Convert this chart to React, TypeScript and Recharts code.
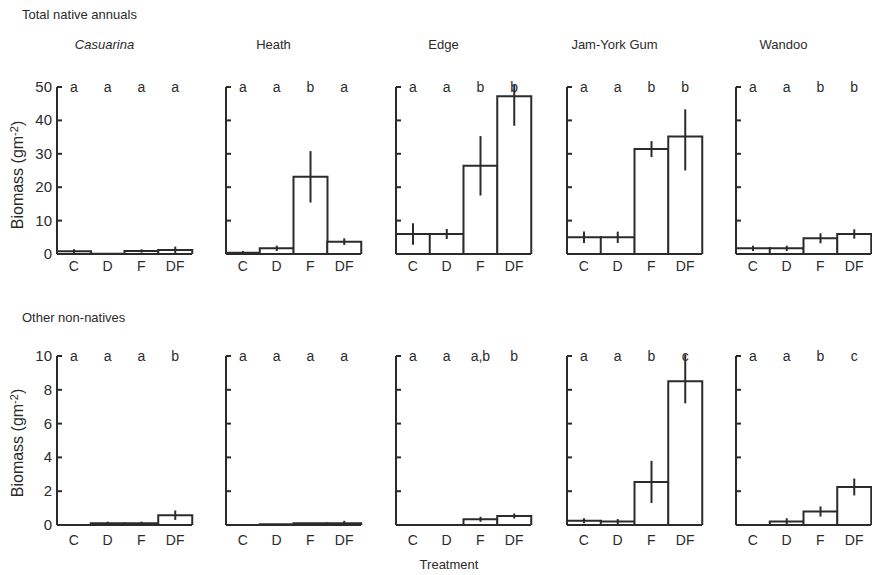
import { BarChart, Bar, XAxis, YAxis, ErrorBar } from 'recharts';

const treatments = ['C', 'D', 'F', 'DF'];
const sites = ['Casuarina', 'Heath', 'Edge', 'Jam-York Gum', 'Wandoo'];

// Total native annuals, one row per site (C, D, F, DF)
const nativeMeans = [
  [0.8, 0.1, 0.9, 1.2],
  [0.4, 1.7, 23.1, 3.7],
  [6.0, 6.0, 26.4, 47.2],
  [5.0, 5.0, 31.4, 35.2],
  [1.7, 1.7, 4.7, 6.0],
];
// [below, above] the mean
const nativeErrors: [number, number][][] = [
  [[0.6, 0.6], [0, 0], [0.5, 0.5], [1.0, 1.0]],
  [[0.5, 0.5], [0.8, 0.8], [7.7, 7.7], [1.0, 1.0]],
  [[3.2, 3.2], [1.5, 1.5], [8.9, 8.9], [8.8, 3.4]],
  [[1.7, 1.7], [1.7, 1.7], [2.4, 2.4], [10.2, 8.1]],
  [[0.8, 0.8], [0.8, 0.8], [1.5, 1.5], [1.4, 1.4]],
];
const nativeLetters = [
  ['a', 'a', 'a', 'a'],
  ['a', 'a', 'b', 'a'],
  ['a', 'a', 'b', 'b'],
  ['a', 'a', 'b', 'b'],
  ['a', 'a', 'b', 'b'],
];

// Other non-natives
const otherMeans = [
  [0, 0.1, 0.1, 0.58],
  [0, 0.05, 0.1, 0.1],
  [0, 0, 0.34, 0.53],
  [0.25, 0.2, 2.55, 8.5],
  [0, 0.2, 0.8, 2.25],
];
const otherErrors: [number, number][][] = [
  [[0, 0], [0.1, 0.1], [0.1, 0.1], [0.28, 0.28]],
  [[0, 0], [0, 0], [0, 0], [0.15, 0.15]],
  [[0, 0], [0, 0], [0.15, 0.15], [0.15, 0.15]],
  [[0.15, 0.15], [0.15, 0.15], [1.25, 1.25], [1.3, 1.6]],
  [[0, 0], [0.2, 0.2], [0.3, 0.3], [0.5, 0.5]],
];
const otherLetters = [
  ['a', 'a', 'a', 'b'],
  ['a', 'a', 'a', 'a'],
  ['a', 'a', 'a,b', 'b'],
  ['a', 'a', 'b', 'c'],
  ['a', 'a', 'b', 'c'],
];

const nativeTicks = [0, 10, 20, 30, 40, 50];
const otherTicks = [0, 2, 4, 6, 8, 10];

const INK = '#2b2b2b';
const FONT = '"Liberation Sans", Arial, sans-serif';
const PLOT_W = 135;
const ML = 40;
const MR = 4;
const MT = 10;
const TICK_MARGIN = 4;
const axisLefts = [57, 226, 396, 567, 736];

const YTick = (props: any) => {
  const { x, y, payload, showLabel } = props;
  const ax = x + TICK_MARGIN;
  return (
    <g>
      <line x1={ax} x2={ax + 5} y1={y} y2={y} stroke={INK} strokeWidth={2} />
      {showLabel && (
        <text x={x - 1} y={y} dy={5} textAnchor="end" fill={INK} fontSize={15} fontFamily={FONT}>
          {payload.value}
        </text>
      )}
    </g>
  );
};

// letters drawn as the ticks of a top axis, so zero bars still get one
const LetterTick = (props: any) => {
  const { x, payload, letters } = props;
  return (
    <text x={x} y={MT + 5} textAnchor="middle" fill={INK} fontSize={14} fontFamily={FONT}>
      {letters[payload.index]}
    </text>
  );
};

interface PanelProps {
  means: number[];
  errors: [number, number][];
  letters: string[];
  ticks: number[];
  left: number;
  top: number;
  plotH: number;
  showLabels: boolean;
  xMargin: number;
}

const Panel = ({ means, errors, letters, ticks, left, top, plotH, showLabels, xMargin }: PanelProps) => {
  const data = treatments.map((t, i) => ({ name: t, value: means[i], err: errors[i] }));
  return (
    <div style={{ position: 'absolute', left: left - ML, top: top - MT }}>
      <BarChart
        width={ML + PLOT_W + MR}
        height={MT + plotH + 30}
        data={data}
        margin={{ top: MT - 1, right: MR, left: ML - 1, bottom: 0 }}
        barCategoryGap={0}
        barGap={0}
        style={{ overflow: 'visible' }}
      >
        <XAxis
          dataKey="name"
          height={30}
          tickLine={false}
          tickSize={0}
          tickMargin={xMargin}
          axisLine={{ stroke: INK, strokeWidth: 2 }}
          tick={{ fill: INK, fontSize: 14, fontFamily: FONT }}
        />
        <XAxis
          xAxisId="letters"
          orientation="top"
          dataKey="name"
          height={1}
          axisLine={false}
          tickLine={false}
          interval={0}
          tick={(p: any) => <LetterTick {...p} letters={letters} />}
        />
        <YAxis
          width={1}
          domain={[ticks[0], ticks[ticks.length - 1]]}
          ticks={ticks}
          allowDataOverflow
          interval={0}
          tickLine={false}
          tickSize={0}
          tickMargin={TICK_MARGIN}
          axisLine={{ stroke: INK, strokeWidth: 2 }}
          tick={(p: any) => <YTick {...p} showLabel={showLabels} />}
        />
        <Bar dataKey="value" fill="#fff" stroke={INK} strokeWidth={2} isAnimationActive={false}>
          <ErrorBar dataKey="err" width={0} stroke={INK} strokeWidth={2} isAnimationActive={false} />
        </Bar>
        <Bar xAxisId="letters" dataKey="value" fill="none" stroke="none" isAnimationActive={false} />
      </BarChart>
    </div>
  );
};

const textStyle = { position: 'absolute' as const, fontFamily: FONT, fontSize: 13, color: INK, whiteSpace: 'nowrap' as const };

const YLabel = ({ cy }: { cy: number }) => (
  <svg width={30} height={170} style={{ position: 'absolute', left: 4, top: cy - 85 }}>
    <text
      transform="translate(19,85) rotate(-90)"
      textAnchor="middle"
      fill={INK}
      fontSize={16}
      fontFamily={FONT}
    >
      Biomass  (gm<tspan dy={-5} fontSize={11}>-2</tspan><tspan dy={5}>)</tspan>
    </text>
  </svg>
);

export default function App() {
  return (
    <div style={{ position: 'absolute', left: 0, top: 0, width: 872, height: 575, background: '#fff', overflow: 'hidden' }}>
      <div style={{ ...textStyle, left: 22, top: 7 }}>Total native annuals</div>
      <div style={{ ...textStyle, left: 22, top: 310 }}>Other non-natives</div>
      {sites.map((s, i) => (
        <div
          key={s}
          style={{
            ...textStyle,
            left: axisLefts[i] + PLOT_W / 2 - 20 - 60,
            width: 120,
            textAlign: 'center',
            top: 37,
            fontStyle: i === 0 ? 'italic' : 'normal',
          }}
        >
          {s}
        </div>
      ))}
      <YLabel cy={175} />
      <YLabel cy={443} />
      {sites.map((s, i) => (
        <Panel
          key={'n' + s}
          means={nativeMeans[i]}
          errors={nativeErrors[i]}
          letters={nativeLetters[i]}
          ticks={nativeTicks}
          left={axisLefts[i]}
          top={87}
          plotH={167}
          showLabels={i === 0}
          xMargin={7}
        />
      ))}
      {sites.map((s, i) => (
        <Panel
          key={'o' + s}
          means={otherMeans[i]}
          errors={otherErrors[i]}
          letters={otherLetters[i]}
          ticks={otherTicks}
          left={axisLefts[i]}
          top={356}
          plotH={169}
          showLabels={i === 0}
          xMargin={10}
        />
      ))}
      <div style={{ ...textStyle, left: 449 - 60, width: 120, textAlign: 'center', top: 557 }}>Treatment</div>
    </div>
  );
}
